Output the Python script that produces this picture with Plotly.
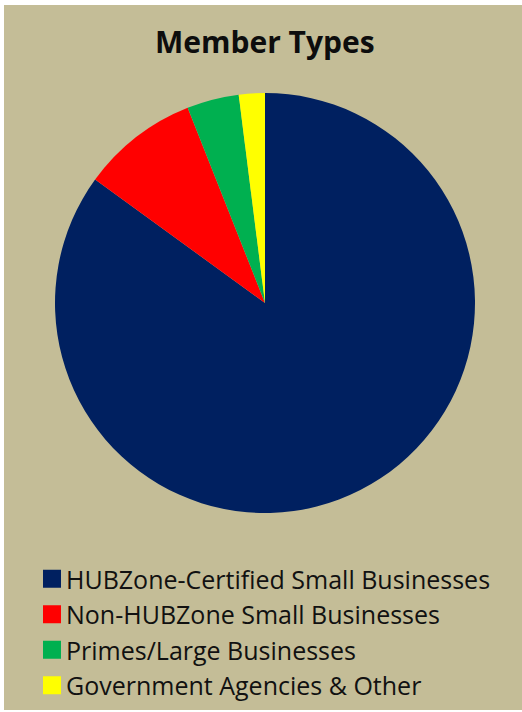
import plotly.graph_objects as go

categories = [
    "HUBZone-Certified Small Businesses",
    "Non-HUBZone Small Businesses",
    "Primes/Large Businesses",
    "Government Agencies & Other",
]
values = [85, 9, 4, 2]
colors = ["#002060", "#FF0000", "#00B050", "#FFFF00"]

W, H = 522, 712
BG = "#C4BD97"

fig = go.Figure(
    go.Pie(
        labels=categories,
        values=values,
        sort=False,
        direction="clockwise",
        rotation=0,
        textinfo="none",
        hoverinfo="label+percent",
        marker=dict(colors=colors, line=dict(width=0)),
        domain=dict(x=[55 / W, 475 / W], y=[1 - 513 / H, 1 - 93 / H]),
    )
)

fig.update_layout(
    width=W,
    height=H,
    margin=dict(l=0, r=0, t=0, b=0),
    paper_bgcolor="white",
    font=dict(family="'Open Sans', Lato, sans-serif", color="#1a1a1a"),
    shapes=[
        dict(type="rect", xref="paper", yref="paper",
             x0=4 / W, x1=1, y0=2 / H, y1=1 - 5 / H,
             fillcolor=BG, line=dict(width=0), layer="below")
    ],
    annotations=[
        dict(text="<b>Member Types</b>", x=265 / W, y=1 - 42 / H,
             xref="paper", yref="paper", xanchor="center", yanchor="middle",
             showarrow=False,
             font=dict(size=30, color="#0d0d0d"))
    ],
    showlegend=True,
    legend=dict(
        x=26 / W, y=1 - 556 / H, xanchor="left", yanchor="top",
        bgcolor="rgba(0,0,0,0)", font=dict(size=25, color="#111111"),
        traceorder="normal",
    ),
)

post = (
    "document.body.style.margin='0';"
    "document.querySelectorAll('.legendpoints path').forEach(function(p){"
    "p.setAttribute('transform','translate(26,0) scale(1.5)');});"
)

fig.write_html("out.html", config={"displayModeBar": False}, post_script=post)
